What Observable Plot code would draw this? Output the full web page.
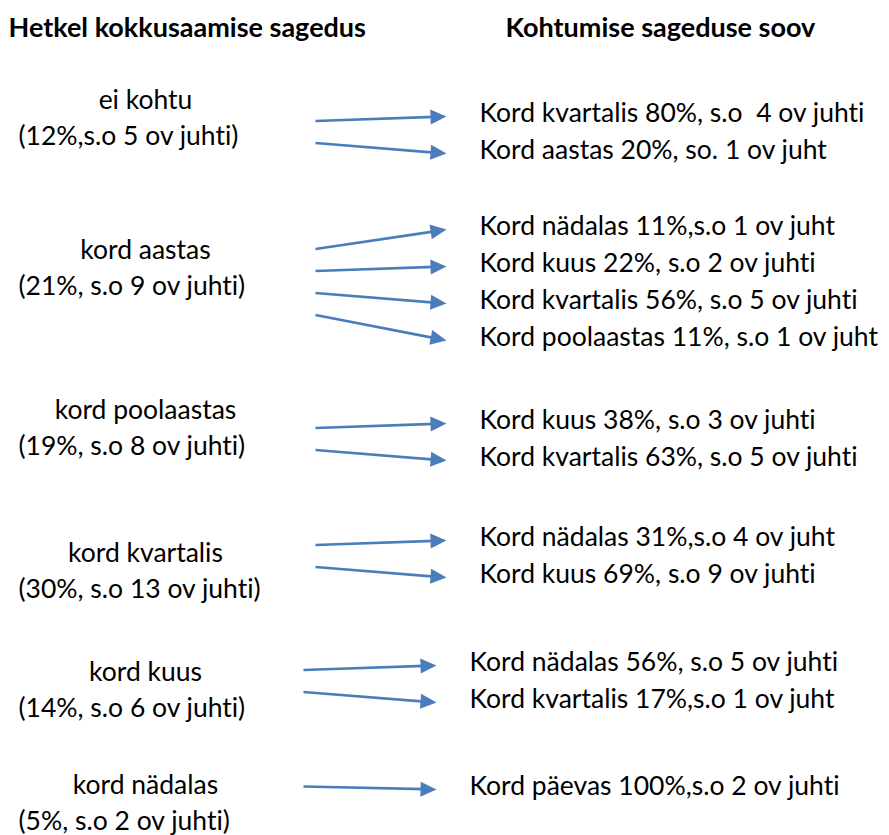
<!DOCTYPE html>
<html>
<head>
<meta charset="utf-8">
<script src="https://cdn.jsdelivr.net/npm/d3@7"></script>
<script src="https://cdn.jsdelivr.net/npm/@observablehq/plot@0.6"></script>
<style>
  html, body { margin: 0; padding: 0; background: #fff; }
  svg text { white-space: pre; font-variant-ligatures: none; font-feature-settings: "liga" 0, "clig" 0; }
</style>
</head>
<body>
<div id="chart"></div>
<script>
// ---- data ----
const headerLeft = "Hetkel kokkusaamise sagedus";
const headerRight = "Kohtumise sageduse soov";
const currentFreq = ["ei kohtu", "kord aastas", "kord poolaastas", "kord kvartalis", "kord kuus", "kord nädalas"];
const currentShare = ["(12%,s.o 5 ov juhti)", "(21%, s.o 9 ov juhti)", "(19%, s.o 8 ov juhti)", "(30%, s.o 13 ov juhti)", "(14%, s.o 6 ov juhti)", "(5%, s.o 2 ov juhti)"];
const desiredG1 = ["Kord kvartalis 80%, s.o  4 ov juhti", "Kord aastas 20%, so. 1 ov juht"];
const desiredG2 = ["Kord nädalas 11%,s.o 1 ov juht", "Kord kuus 22%, s.o 2 ov juhti", "Kord kvartalis 56%, s.o 5 ov juhti", "Kord poolaastas 11%, s.o 1 ov juht"];
const desiredG3 = ["Kord kuus 38%, s.o 3 ov juhti", "Kord kvartalis 63%, s.o 5 ov juhti"];
const desiredG4 = ["Kord nädalas 31%,s.o 4 ov juht", "Kord kuus 69%, s.o 9 ov juhti"];
const desiredG5 = ["Kord nädalas 56%, s.o 5 ov juhti", "Kord kvartalis 17%,s.o 1 ov juht"];
const desiredG6 = ["Kord päevas 100%,s.o 2 ov juhti"];
const desired = [desiredG1, desiredG2, desiredG3, desiredG4, desiredG5, desiredG6];

// ---- layout ----
const W = 889, H = 835;
const font = "Lato, 'Open Sans', sans-serif";
const fs = 26.5;
const leftTop = [100, 250, 410, 553, 672, 785];
const rightTop = [113, 226, 420, 537, 662, 786];
const lineGap = 36, rowGap = 37;
const indent = [0, 0, 0, 0, -10, -10];
const leftCenter = 145, leftStart = 18;

const leftNames = [], leftShares = [], rightRows = [], arrows = [];
currentFreq.forEach((f, g) => {
  leftNames.push({x: leftCenter, y: leftTop[g], t: f});
  leftShares.push({x: leftStart, y: leftTop[g] + lineGap, t: currentShare[g]});
  const n = desired[g].length;
  const mid = rightTop[g] + (n - 1) * rowGap / 2;
  desired[g].forEach((d, i) => {
    const ry = rightTop[g] + i * rowGap;
    rightRows.push({x: 479 + indent[g], y: ry, t: d});
    const x1 = (indent[g] ? 303 : 315), y1 = mid + (i - (n - 1) / 2) * 22;
    const x2 = 446 + indent[g], y2 = ry + 3;
    const ang = Math.atan2(y2 - y1, x2 - x1);
    arrows.push({x1, y1, x2, y2, bx: x2 - 12 * Math.cos(ang), by: y2 - 12 * Math.sin(ang), rot: 90 + ang * 180 / Math.PI});
  });
});

const head = {draw(ctx) { ctx.moveTo(0, 0); ctx.lineTo(-7.5, 16); ctx.lineTo(7.5, 16); ctx.closePath(); }};
const blue = "#4a7ebb";

const chart = Plot.plot({
  width: W, height: H,
  margin: 0,
  style: {fontFamily: font, background: "#fff"},
  x: {domain: [0, W], range: [0, W], axis: null},
  y: {domain: [0, H], range: [0, H], axis: null},
  marks: [
    Plot.text([{x: 8, y: 28, t: headerLeft}, {x: 505, y: 28, t: headerRight}], {x: "x", y: "y", text: "t", textAnchor: "start", fontSize: 27, fontWeight: "bold", fill: "#000"}),
    Plot.text(leftNames, {x: "x", y: "y", text: "t", textAnchor: "middle", fontSize: fs, fill: "#000"}),
    Plot.text(leftShares, {x: "x", y: "y", text: "t", textAnchor: "start", fontSize: fs, fill: "#000"}),
    Plot.text(rightRows, {x: "x", y: "y", text: "t", textAnchor: "start", fontSize: fs, fill: "#000"}),
    Plot.link(arrows, {x1: "x1", y1: "y1", x2: "bx", y2: "by", stroke: blue, strokeWidth: 2.75}),
    Plot.dot(arrows, {x: "x2", y: "y2", symbol: head, rotate: "rot", fill: blue, stroke: "none", r: 8})
  ]
});
document.getElementById("chart").appendChild(chart);
</script>
</body>
</html>
